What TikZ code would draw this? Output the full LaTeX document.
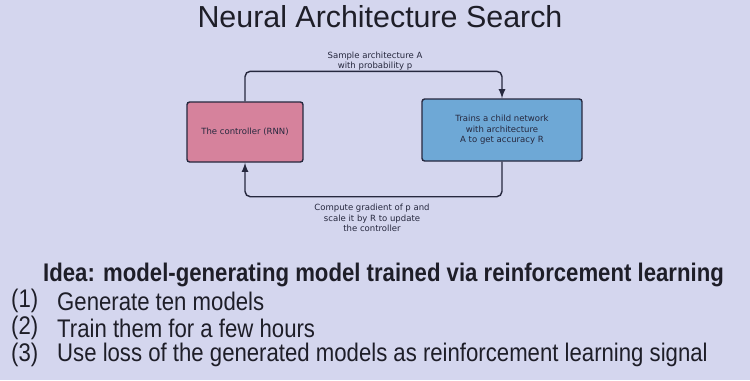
\documentclass[tikz,border=0pt]{standalone}
\usepackage{fontspec}
\setmainfont{Liberation Sans}
\newfontfamily\figfont{DejaVu Sans}
\usetikzlibrary{calc}
\definecolor{slidebg}{RGB}{212,214,238}
\definecolor{ctrlpink}{RGB}{214,130,156}
\definecolor{childblue}{RGB}{110,168,214}
\definecolor{ink}{RGB}{38,40,62}
\definecolor{slidetext}{RGB}{30,30,40}
\newcommand{\narrow}[1]{\scalebox{0.87}[1]{#1}}

\begin{document}
\begin{tikzpicture}[x=0.02cm,y=-0.02cm,
    box/.style={draw=ink, line width=0.8pt, rounded corners=1.5pt, text=ink,
        align=center, font=\figfont\fontsize{4.85}{6}\selectfont},
    edgelabel/.style={text=ink, align=center, font=\figfont\fontsize{4.85}{6}\selectfont},
    flow/.style={draw=ink, line width=0.8pt, rounded corners=3pt, -latex},
    itemtext/.style={anchor=west, text=slidetext, font=\fontsize{14.5}{16}\selectfont}]
        \fill[slidebg] (0,0) rectangle (750,380);
        \useasboundingbox (0,0) rectangle (750,380);

        \node[text=slidetext, font=\fontsize{17.3}{19}\selectfont] (title) at (380,17) {Neural Architecture Search};

        \node[box, fill=ctrlpink, minimum width=2.32cm, minimum height=1.2cm] (ctrl) at (245,132) {The controller (RNN)};
        \node[box, fill=childblue, minimum width=3.2cm, minimum height=1.24cm] (child) at (502,130)
            {Trains a child network\\with architecture\\A to get accuracy R};

        \draw[flow] (ctrl.north) -- ++(0,-30) -| (child.north);
        \draw[flow] (child.south) -- ++(0,35) -| (ctrl.south);

        \node[edgelabel] (sample) at (375,61) {Sample architecture A\\with probability p};
        \node[edgelabel] (grad) at (372,218) {Compute gradient of p and\\scale it by R to update\\the controller};

        \node[itemtext, font=\bfseries\fontsize{14.5}{16}\selectfont] (idea) at (37,275)
            {\narrow{Idea: model-generating model trained via reinforcement learning}};
        \node[itemtext] (n1) at (5,301) {\narrow{(1)}};
        \node[itemtext] (n2) at (5,328) {\narrow{(2)}};
        \node[itemtext] (n3) at (5,355) {\narrow{(3)}};
        \node[itemtext] (i1) at (51,301) {\narrow{Generate ten models}};
        \node[itemtext] (i2) at (51,328) {\narrow{Train them for a few hours}};
        \node[itemtext] (i3) at (51,355) {\narrow{Use loss of the generated models as reinforcement learning signal}};
\end{tikzpicture}
\end{document}
